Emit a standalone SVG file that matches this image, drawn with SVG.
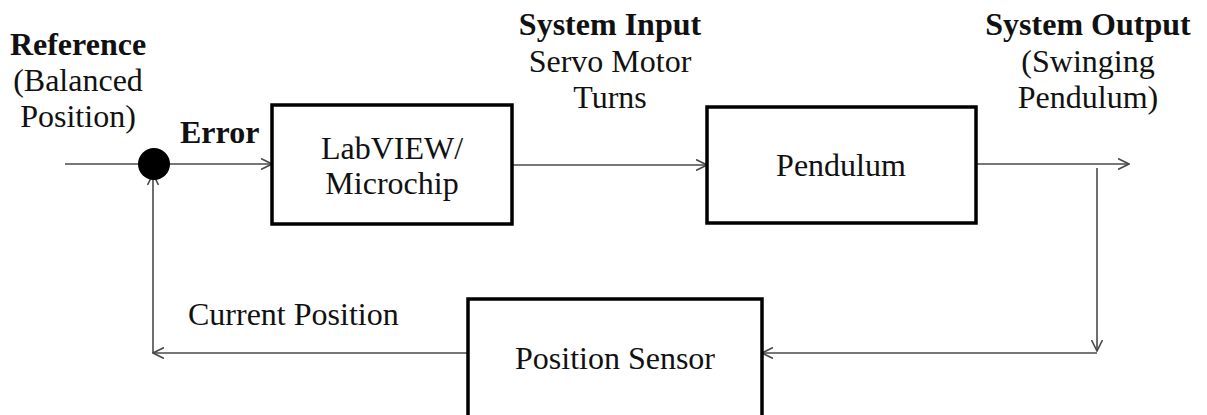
<svg xmlns="http://www.w3.org/2000/svg" width="1207" height="415" viewBox="0 0 1207 415">
  <defs>
    <style>
      .box { fill: #ffffff; stroke: #000000; stroke-width: 3.5; }
      .wire { fill: none; stroke: #4a4a4a; stroke-width: 1.6; }
      .t { font-family: "Liberation Serif", "Times New Roman", serif; font-size: 32px; fill: #111111; }
      .b { font-weight: bold; }
      .m { text-anchor: middle; }
    </style>
    <marker id="arrow" viewBox="0 0 12 12" markerWidth="12" markerHeight="12" refX="11" refY="6" orient="auto" markerUnits="userSpaceOnUse">
      <path d="M0,0.5 L11,6 L0,11.5" fill="none" stroke="#4a4a4a" stroke-width="1.6"/>
    </marker>
  </defs>
  <rect width="1207" height="415" fill="#ffffff"/>

  <!-- signal lines -->
  <g id="connectors">
    <line class="wire" x1="65" y1="164" x2="140" y2="164"/>
    <line class="wire" x1="168" y1="164" x2="272" y2="164" marker-end="url(#arrow)"/>
    <line class="wire" x1="512" y1="165" x2="707" y2="165" marker-end="url(#arrow)"/>
    <line class="wire" x1="976" y1="164" x2="1129" y2="164" marker-end="url(#arrow)"/>
    <line class="wire" x1="1097" y1="168" x2="1097" y2="351" marker-end="url(#arrow)"/>
    <line class="wire" x1="1097" y1="353" x2="762" y2="353" marker-end="url(#arrow)"/>
    <polyline class="wire" points="468,353 153,353" marker-end="url(#arrow)"/>
    <line class="wire" x1="153" y1="353" x2="153" y2="174" marker-end="url(#arrow)"/>
  </g>

  <!-- labels on the signals -->
  <g id="labels">
    <text class="t b m" x="78" y="55">Reference</text>
    <text class="t m" x="78" y="91">(Balanced</text>
    <text class="t m" x="78" y="127">Position)</text>
    <text class="t b" x="180" y="143">Error</text>
    <text class="t b m" x="610" y="35">System Input</text>
    <text class="t m" x="610" y="72">Servo Motor</text>
    <text class="t m" x="610" y="108">Turns</text>
    <text class="t b m" x="1088" y="35">System Output</text>
    <text class="t m" x="1088" y="72">(Swinging</text>
    <text class="t m" x="1088" y="108">Pendulum)</text>
    <text class="t" x="188" y="325">Current Position</text>
  </g>

  <g id="summing-junction">
    <circle cx="154" cy="164" r="16" fill="#000000"/>
  </g>

  <g id="controller">
    <rect class="box" x="272" y="105" width="240" height="119"/>
    <text class="t m" x="392" y="159">LabVIEW/</text>
    <text class="t m" x="392" y="194">Microchip</text>
  </g>

  <g id="pendulum">
    <rect class="box" x="707" y="107" width="269" height="116"/>
    <text class="t m" x="841" y="176">Pendulum</text>
  </g>

  <g id="position-sensor">
    <rect class="box" x="468" y="299" width="294" height="140"/>
    <text class="t m" x="615" y="369">Position Sensor</text>
  </g>
</svg>
